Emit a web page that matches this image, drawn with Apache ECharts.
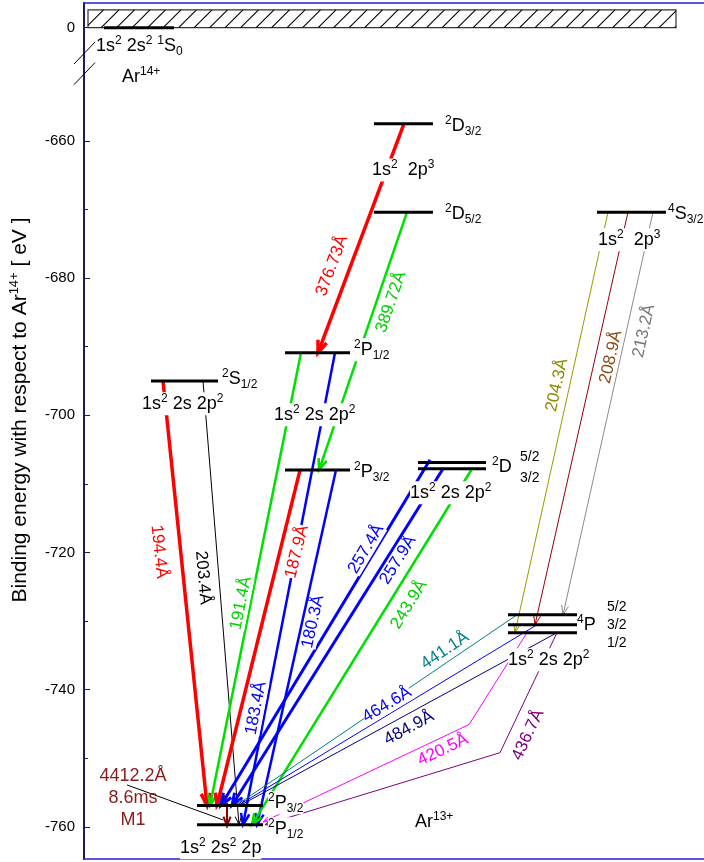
<!DOCTYPE html>
<html>
<head>
<meta charset="utf-8">
<script src="https://cdn.jsdelivr.net/npm/echarts@6/dist/echarts.min.js"></script>
<style>
html, body { margin: 0; padding: 0; background: #fff; }
#chart { width: 704px; height: 862px; }
</style>
</head>
<body>
<div id="chart"></div>
<script>
// energy axis (eV). the 0 level of Ar14+ is drawn above an axis break
var yTicks = [-760, -740, -720, -700, -680, -660];
var yMinorTicks = [-750, -730, -710, -690, -670];
var zeroAt = -643.5;
var breakAt = [-647.2, -650.2];

// energy levels (horizontal extent in diagram units, energy in eV)
var levelNames = ['1S0', '2D3/2', '2D5/2', '4S3/2', '2P1/2 2s2p2', '2P3/2 2s2p2', '2S1/2', '2D5/2 2s2p2', '2D3/2 2s2p2',
  '4P5/2', '4P3/2', '4P1/2', '2P3/2', '2P1/2'];
var levelX0 = [20, 290, 290, 513, 201, 201, 67, 334, 334, 424, 424, 424, 113, 113];
var levelX1 = [90, 349, 349, 582, 266, 266, 134, 402, 402, 493, 493, 493, 179, 179];
var levelE = [zeroAt, -657.5, -670.4, -670.4, -690.9, -708.0, -695.0, -706.9, -707.8, -729.1, -730.55, -731.7, -756.9, -759.7];

// continuum above the ionisation limit
var continuum = [4, zeroAt, 592, -640.9];

// transitions: wavelength and path (upper level -> lower level)
var transLabel = ['376.73Å', '389.72Å', '194.4Å', '203.4Å', '191.4Å', '187.9Å', '183.4Å', '180.3Å', '257.4Å', '257.9Å',
  '243.9Å', '204.3Å', '208.9Å', '213.2Å', '441.1Å', '464.6Å', '484.9Å', '420.5Å', '436.7Å', ''];
var transPath = [
  [[320, -657.5], [234, -690.9]],
  [[323, -670.4], [235, -708.0]],
  [[79, -695.0], [123, -756.9]],
  [[119, -695.0], [155, -759.7]],
  [[217, -690.9], [126, -756.9]],
  [[216, -708.0], [133, -756.9]],
  [[251, -690.9], [159, -759.7]],
  [[252, -708.0], [173, -759.7]],
  [[346, -706.5], [137, -756.9]],
  [[359, -707.8], [148, -756.9]],
  [[388, -707.8], [168, -759.7]],
  [[524, -670.4], [431, -731.7]],
  [[544, -670.4], [451, -730.55]],
  [[569, -670.4], [479, -729.1]],
  [[433, -729.1], [152, -756.9]],
  [[453, -730.55], [154, -756.9]],
  [[473, -731.7], [156, -756.9]],
  [[443, -731.7], [385, -745.1], [179, -759.3]],
  [[473, -731.7], [416, -749.2], [181, -759.7]],
  [[143, -756.5], [143, -759.9]]
];
// where each wavelength label sits (diagram units) and its angle
var transLabelX = [248, 307, 75, 119, 157, 213, 172, 229, 282, 314, 325, 473, 527, 560, 361, 303, 325, 359, 444, 0];
var transLabelE = [-678.2, -683.5, -719.9, -723.7, -727.4, -719.9, -742.7, -730.1, -719.5, -721.1, -727.6, -695.6, -691.5, -687.7, -734.3, -742.2, -745.6, -748.8, -746.6, 0];
var transLabelRot = [69.4, 71.2, -84, -85, 78.6, 76, 79, 77.5, 59, 58, 58.3, 77.5, 77, 77.6, 34, 31, 28.6, 25, 64.6, 0];

// level names and configurations
var noteText = [
  '{n|1s}{p|2}{n| 2s}{p|2}{n| }{p|1}{n|S}{b|0}',
  '{n|Ar}{p|14+}',
  '{p|2}{n|D}{b|3/2}',
  '{n|1s}{p|2}{n|  2p}{p|3}',
  '{p|2}{n|D}{b|5/2}',
  '{p|4}{n|S}{b|3/2}',
  '{n|1s}{p|2}{n|  2p}{p|3}',
  '{p|2}{n|P}{b|1/2}',
  '{n|1s}{p|2}{n| 2s 2p}{p|2}',
  '{p|2}{n|P}{b|3/2}',
  '{p|2}{n|S}{b|1/2}',
  '{n|1s}{p|2}{n| 2s 2p}{p|2}',
  '{p|2}{n|D}',
  '{s|5/2}',
  '{s|3/2}',
  '{n|1s}{p|2}{n| 2s 2p}{p|2}',
  '{p|4}{n|P}',
  '{s|5/2}',
  '{s|3/2}',
  '{s|1/2}',
  '{n|1s}{p|2}{n| 2s 2p}{p|2}',
  '{p|2}{n|P}{b|3/2}',
  '{p|2}{n|P}{b|1/2}',
  '{n|1s}{p|2}{n| 2s}{p|2}{n| 2p}',
  '{n|Ar}{p|13+}'
];
var noteX = [12, 38, 361, 288, 361, 584, 514, 270, 190, 270, 138, 58, 408, 436, 436, 326, 493, 523, 523, 523, 424, 184, 184, 96, 331];
var noteE = [-646.15, -650.67, -657.81, -664.23, -670.64, -670.64, -674.43, -690.47, -699.94, -708.25, -694.69, -698.34,
  -707.52, -706.06, -709.13, -711.31, -730.55, -727.93, -730.55, -733.18, -735.66, -756.5, -760.29, -763.06, -759.27];

// M1 decay note
var m1Text = ['4412.2Å', '8.6ms', 'M1'];
var m1X = [49, 49, 49];
var m1E = [-752.57, -755.77, -758.98];
var m1Pointer = [[43, -753.9], [139, -759.0]];

var FONT = '"Liberation Sans", Arial, sans-serif';
var transColor = ['#ff0000', '#00e000', '#ff0000', '#000000', '#00e000', '#ff0000', '#0000ff', '#0000ff', '#0000ff', '#0000ff',
  '#00e000', '#9a9a00', '#990000', '#8a8a8a', '#008080', '#0000ff', '#000080', '#ff00ff', '#800080', '#8b0000'];
var transTextColor = ['#ff0000', '#00d000', '#ff0000', '#000000', '#00d000', '#ff0000', '#0000ff', '#0000ff', '#0000ff', '#0000ff',
  '#00d000', '#8a8a00', '#8c4a12', '#777777', '#008080', '#0000ff', '#000080', '#ff00ff', '#800080', '#8b0000'];
var transWidth = [3.5, 2.5, 3.5, 1, 2.5, 3.5, 2.5, 2.5, 3, 3, 2.5, 1, 1, 1, 1, 1, 1, 1, 1, 2];
var headLen = [13, 12, 13, 9, 12, 13, 12, 12, 13, 13, 12, 10, 10, 10, 7, 7, 7, 7, 7, 10];

var rich = {
  n: { fontSize: 18, fontFamily: FONT },
  p: { fontSize: 12, fontFamily: FONT, padding: [0, 0, 11, 0] },
  b: { fontSize: 12, fontFamily: FONT, padding: [11, 0, 0, 0] },
  s: { fontSize: 14, fontFamily: FONT }
};

var chart = echarts.init(document.getElementById('chart'));

function renderTrans(params, api) {
  var i = params.dataIndex;
  var pts = transPath[i].map(function (p) { return api.coord(p); });
  var c = transColor[i], w = transWidth[i];
  var kids = [{ type: 'polyline', shape: { points: pts }, style: { stroke: c, lineWidth: w, fill: null } }];
  var a = pts[pts.length - 2], b = pts[pts.length - 1];
  var ang = Math.atan2(b[1] - a[1], b[0] - a[0]);
  var L = headLen[i];
  var h1 = [b[0] - L * Math.cos(ang - 0.36), b[1] - L * Math.sin(ang - 0.36)];
  var h2 = [b[0] - L * Math.cos(ang + 0.36), b[1] - L * Math.sin(ang + 0.36)];
  kids.push({ type: 'polyline', shape: { points: [h1, b, h2] }, style: { stroke: c, lineWidth: w, fill: null } });
  return { type: 'group', children: kids };
}

function renderTransLabel(params, api) {
  var i = params.dataIndex;
  if (!transLabel[i]) return null;
  var p = api.coord([transLabelX[i], transLabelE[i]]);
  return {
    type: 'text', x: p[0], y: p[1], rotation: transLabelRot[i] * Math.PI / 180, z2: 20,
    style: {
      text: transLabel[i], fill: transTextColor[i], fontSize: 17, fontFamily: FONT,
      align: 'center', verticalAlign: 'middle', backgroundColor: '#fff'
    }
  };
}

function renderLevel(params, api) {
  var i = params.dataIndex;
  var a = api.coord([levelX0[i], levelE[i]]);
  var b = api.coord([levelX1[i], levelE[i]]);
  return { type: 'line', shape: { x1: a[0], y1: a[1], x2: b[0], y2: b[1] }, style: { stroke: '#000', lineWidth: 3 } };
}

function renderNote(params, api) {
  var i = params.dataIndex;
  var p = api.coord([noteX[i], noteE[i]]);
  return {
    type: 'text', x: p[0], y: p[1], z2: 30,
    style: { text: noteText[i], rich: rich, fill: '#000', align: 'left', verticalAlign: 'middle', backgroundColor: '#fff' }
  };
}

function renderM1(params, api) {
  var i = params.dataIndex;
  var p = api.coord([m1X[i], m1E[i]]);
  var kids = [{
    type: 'text', x: p[0], y: p[1],
    style: { text: m1Text[i], fill: '#8b1a1a', fontSize: 18, fontFamily: FONT, align: 'center', verticalAlign: 'middle' }
  }];
  if (i === 0) {
    var q0 = api.coord(m1Pointer[0]), q1 = api.coord(m1Pointer[1]);
    kids.push({ type: 'line', shape: { x1: q0[0], y1: q0[1], x2: q1[0], y2: q1[1] }, style: { stroke: '#000', lineWidth: 1 } });
  }
  return { type: 'group', children: kids };
}

function renderContinuum(params, api) {
  var p0 = api.coord([continuum[0], continuum[1]]);
  var p1 = api.coord([continuum[2], continuum[3]]);
  var x = p0[0], y = p1[1], w = p1[0] - p0[0], h = p0[1] - p1[1];
  var kids = [{ type: 'rect', shape: { x: x, y: y, width: w, height: h }, style: { fill: '#fff', stroke: '#333', lineWidth: 1.2 } }];
  for (var k = -h; k < w; k += 15.5) {
    var t0 = Math.max(0, -k), t1 = Math.min(h, w - k);
    if (t0 < t1) {
      kids.push({ type: 'line', shape: { x1: x + k + t0, y1: y + h - t0, x2: x + k + t1, y2: y + h - t1 }, style: { stroke: '#000', lineWidth: 1.1 } });
    }
  }
  return { type: 'group', children: kids };
}

function renderBreak(params, api) {
  var p = api.coord([0, breakAt[params.dataIndex]]);
  return { type: 'line', shape: { x1: p[0] - 10, y1: p[1] + 11, x2: p[0] + 11, y2: p[1] - 11 }, style: { stroke: '#000', lineWidth: 1 } };
}

var frameLine = { show: true, lineStyle: { color: '#2222dd', width: 1.5 } };

chart.setOption({
  animation: false,
  backgroundColor: '#fff',
  grid: { left: 84, right: 0, top: 3, bottom: 3 },
  xAxis: [
    { type: 'value', min: 0, max: 620, position: 'bottom', axisLine: frameLine, axisTick: { show: false }, axisLabel: { show: false }, splitLine: { show: false } },
    { type: 'value', min: 0, max: 620, position: 'top', axisLine: frameLine, axisTick: { show: false }, axisLabel: { show: false }, splitLine: { show: false } }
  ],
  yAxis: [{
    type: 'value', min: -764.7, max: -639.9,
    axisLine: { show: true, lineStyle: { color: '#1b1b5e', width: 2 } },
    axisTick: { show: true, inside: true, length: 6, customValues: yTicks.concat([zeroAt]), lineStyle: { color: '#222' } },
    splitLine: { show: false },
    axisLabel: {
      customValues: yTicks.concat([zeroAt]), margin: 9, color: '#000', fontSize: 15, fontFamily: FONT,
      formatter: function (v) { return Math.abs(v - zeroAt) < 0.01 ? '0' : String(v); }
    }
  }, {
    type: 'value', min: -764.7, max: -639.9, position: 'left',
    axisLine: { show: false }, splitLine: { show: false }, axisLabel: { show: false },
    axisTick: { show: true, inside: true, length: 4, customValues: yMinorTicks, lineStyle: { color: '#222' } }
  }],
  graphic: [{
    type: 'text', x: 20, y: 410, rotation: Math.PI / 2,
    style: {
      text: '{t|Binding energy with respect to Ar}{u|14+}{t| [ eV ]}',
      rich: { t: { fontSize: 21, fontFamily: FONT }, u: { fontSize: 13, fontFamily: FONT, padding: [0, 0, 12, 0] } },
      fill: '#000', align: 'center', verticalAlign: 'middle'
    }
  }],
  series: [
    { type: 'custom', renderItem: renderContinuum, data: [continuum], z: 1, silent: true },
    { type: 'custom', renderItem: renderBreak, data: breakAt.map(function (e) { return [0, e]; }), z: 1, silent: true, clip: false },
    { type: 'custom', renderItem: renderTrans, data: transPath.map(function (p) { return p[p.length - 1]; }), z: 2, silent: true },
    { type: 'custom', renderItem: renderTransLabel, data: transLabelX.map(function (x, i) { return [x, transLabelE[i]]; }), z: 3, silent: true },
    { type: 'custom', renderItem: renderLevel, data: levelNames.map(function (n, i) { return [levelX0[i], levelE[i]]; }), z: 4, silent: true },
    { type: 'custom', renderItem: renderNote, data: noteX.map(function (x, i) { return [x, noteE[i]]; }), z: 5, silent: true, clip: false },
    { type: 'custom', renderItem: renderM1, data: m1X.map(function (x, i) { return [x, m1E[i]]; }), z: 5, silent: true }
  ]
});
</script>
</body>
</html>
